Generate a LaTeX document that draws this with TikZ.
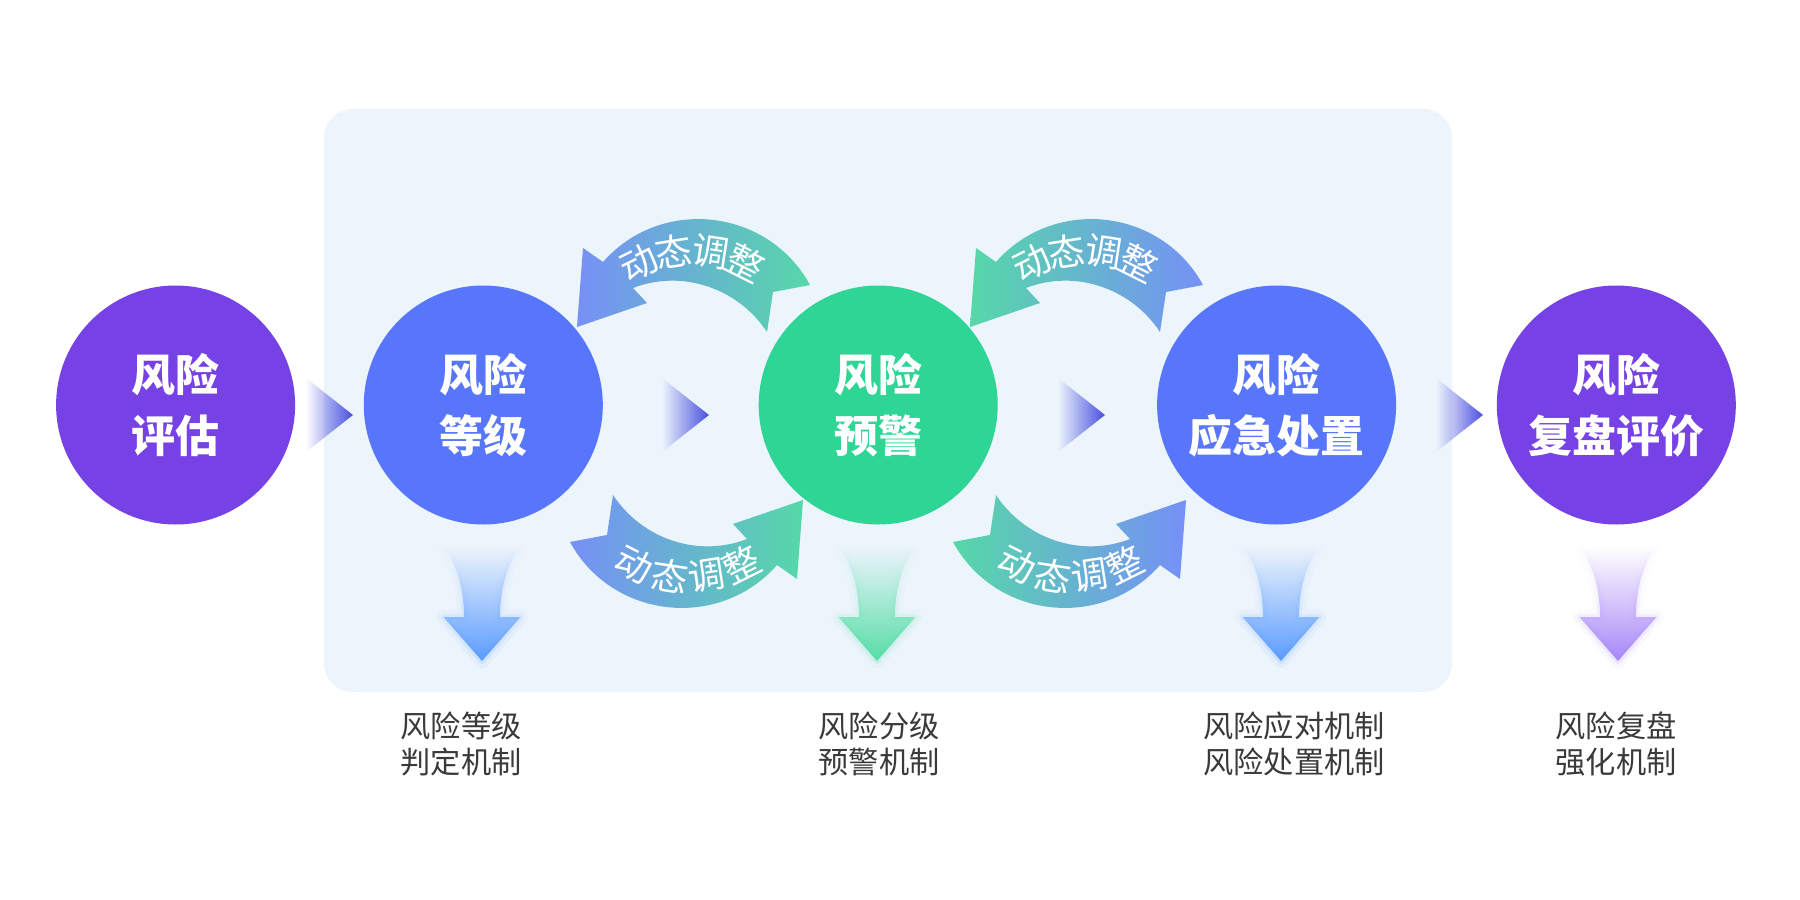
\documentclass[tikz,border=0pt]{standalone}
\usepackage{fontspec}
\usepackage{tikz}
\usetikzlibrary{calc}
\usetikzlibrary{fadings}
\newfontfamily\cjk{Noto Sans CJK SC}

\definecolor{panelbg}{RGB}{236,244,252}
\definecolor{riskpurple}{RGB}{118,66,230}
\definecolor{riskblue}{RGB}{88,118,251}
\definecolor{riskgreen}{RGB}{46,213,148}
\definecolor{arcblue}{RGB}{118,144,246}
\definecolor{arcgreen}{RGB}{86,216,168}
\definecolor{tridark}{RGB}{72,80,224}
\definecolor{dropblue}{RGB}{91,156,255}
\definecolor{dropgreen}{RGB}{86,222,166}
\definecolor{droppurple}{RGB}{168,135,250}
\definecolor{labelgray}{RGB}{58,58,58}

\tikzfading[name=stemfade, top color=transparent!100, middle color=transparent!0, bottom color=transparent!0]

\tikzset{
    circ/.style={circle, minimum size=23.9mm, inner sep=0pt, text=white, align=center,
        font=\cjk\bfseries\fontsize{12.5}{17.3}\selectfont},
    mech/.style={text=labelgray, align=center, font=\cjk\fontsize{8.6}{10.1}\selectfont},
    adj/.style={text=white, inner sep=0pt, font=\cjk\fontsize{10.5}{12}\selectfont},
}

% arcs (pixel units, y downwards)
\newcommand{\frownarc}{(603,262) .. controls (661,196) and (768,208) .. (810,285) -- (773,292) -- (767,332) .. controls (738,288) and (682,269) .. (633,288) -- (647,303) -- (577,327) -- (583,248) -- cycle}
\newcommand{\smilearc}{(777,565) .. controls (719,631) and (612,619) .. (570,542) -- (607,535) -- (613,495) .. controls (642,539) and (698,558) .. (747,539) -- (733,524) -- (803,500) -- (797,579) -- cycle}

\newcommand{\steptri}[1]{%
    \fill[tridark, path fading=west] (#1,378) -- (#1+47,415) -- (#1,452) -- cycle;}

\newcommand{\mechdrop}[2]{%
    \begin{scope}[shift={(#1,0)}]
        \draw[#2, line width=1.4mm, draw opacity=0.07, line join=round, path fading=stemfade] (-37,548) .. controls (-25,565) and (-18,590) .. (-18,617) -- (-38.5,617) -- (0,661) -- (38.5,617) -- (18,617) .. controls (18,590) and (25,565) .. (37,548) -- cycle;
        \draw[#2, line width=0.6mm, draw opacity=0.15, line join=round, path fading=stemfade] (-37,548) .. controls (-25,565) and (-18,590) .. (-18,617) -- (-38.5,617) -- (0,661) -- (38.5,617) -- (18,617) .. controls (18,590) and (25,565) .. (37,548) -- cycle;
        \fill[#2, path fading=stemfade] (-37,548) .. controls (-25,565) and (-18,590) .. (-18,617) -- (-38.5,617) -- (0,661) -- (38.5,617) -- (18,617) .. controls (18,590) and (25,565) .. (37,548) -- cycle;
    \end{scope}}

\begin{document}
\begin{tikzpicture}[x=0.1mm, y=-0.1mm]
        \useasboundingbox (0,0) rectangle (1800,900);
        \fill[white] (0,0) rectangle (1800,900);
        \fill[panelbg, rounded corners=2.9mm] (324,109) rectangle (1452,692);

        % steps
        \steptri{306}
        \steptri{662}
        \steptri{1058}
        \steptri{1436}

        % top arcs
        \shade[left color=arcblue, right color=arcgreen] \frownarc;
        \begin{scope}[shift={(393,0)}]
            \shade[left color=arcgreen, right color=arcblue] \frownarc;
        \end{scope}
        % bottom arcs
        \shade[left color=arcblue, right color=arcgreen] \smilearc;
        \begin{scope}[shift={(383,0)}]
            \shade[left color=arcgreen, right color=arcblue] \smilearc;
        \end{scope}

        \foreach \ch/\a/\b [count=\i] in {动/26.5/-26.5, 态/8.8/-8.8, 调/-8.8/8.8, 整/-26.5/26.5} {
            \node[adj, rotate=\a] (upa\i) at ({692-120*sin(\a)},{370-120*cos(\a)}) {\ch};
            \node[adj, rotate=\a] (upb\i) at ({1085-120*sin(\a)},{370-120*cos(\a)}) {\ch};
            \node[adj, rotate=\b] (loa\i) at ({688-120*sin(\a)},{457+120*cos(\a)}) {\ch};
            \node[adj, rotate=\b] (lob\i) at ({1071-120*sin(\a)},{457+120*cos(\a)}) {\ch};
        }

        % down arrows
        \mechdrop{482}{dropblue}
        \mechdrop{877}{dropgreen}
        \mechdrop{1281}{dropblue}
        \mechdrop{1618}{droppurple}

        % circles
        \node[circ, fill=riskpurple] (assess) at (175.6,405) {风险\\评估};
        \node[circ, fill=riskblue] (grade) at (483.3,405) {风险\\等级};
        \node[circ, fill=riskgreen] (warn) at (878.2,405) {风险\\预警};
        \node[circ, fill=riskblue] (respond) at (1276.6,405) {风险\\应急处置};
        \node[circ, fill=riskpurple] (review) at (1616.3,405) {风险\\复盘评价};

        % mechanisms
        \node[mech] (gradetxt) at (461,744) {风险等级\\判定机制};
        \node[mech] (warntxt) at (879,744) {风险分级\\预警机制};
        \node[mech] (respondtxt) at (1294,744) {风险应对机制\\风险处置机制};
        \node[mech] (reviewtxt) at (1616,744) {风险复盘\\强化机制};
\end{tikzpicture}
\end{document}
